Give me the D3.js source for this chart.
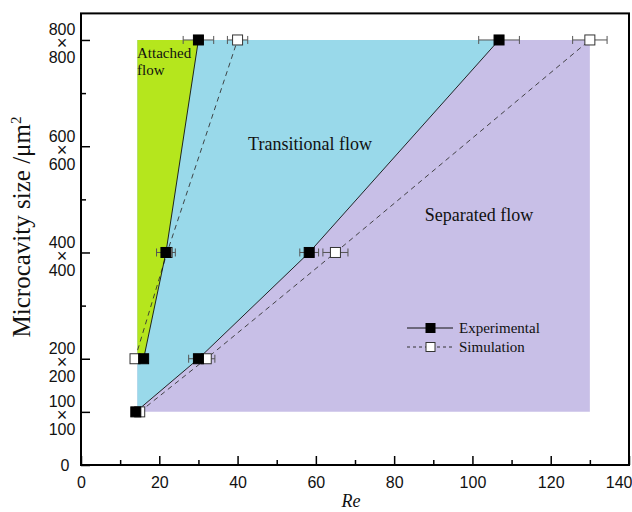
<!DOCTYPE html>
<html lang="en">
<head>
<meta charset="UTF-8">
<title>Flow regimes</title>
<script src="https://d3js.org/d3.v7.min.js"></script>
<style>
    body { margin: 0; background: #fff; }
    svg { display: block; }
    .serif { font-family: "Liberation Serif", "Times New Roman", serif; }
</style>
</head>
<body>
<svg id="chart" width="632" height="512"></svg>
<script>
    // microcavity sizes (µm, square side)
    const sizes = [100, 200, 400, 800];
    const sizeTicks = [0, 100, 200, 400, 600, 800];
    const sizeMinorTicks = [300, 500, 700];
    const reTicks = [0, 20, 40, 60, 80, 100, 120, 140];
    const reMinorTicks = [10, 30, 50, 70, 90, 110, 130];

    // attached / transitional boundary (sizes 200..800)
    const expAttachedRe = [16, 21.7, 30];
    const expAttachedErr = [0, 2.4, 3.9];
    const simAttachedRe = [13.8, 22, 40];
    const simAttachedErr = [0, 0, 2.6];

    // transitional / separated boundary (sizes 100..800)
    const expSeparatedRe = [14, 30, 58.3, 106.8];
    const expSeparatedErr = [0, 2.5, 2.4, 5.2];
    const simSeparatedRe = [15, 32, 65, 130];
    const simSeparatedErr = [0, 2.2, 3.2, 4.4];

    // extent of the shaded map (Re left/right)
    const regionRe = [14.4, 130];

    const svg = d3.select("#chart");
    const x = d3.scaleLinear().domain([0, 140]).range([81, 629]);
    const y = d3.scaleLinear().domain([0, 850]).range([465, 13.4]);

    const attachedPts = sizes.slice(1).map((s, i) => ({ re: expAttachedRe[i], s: s, err: expAttachedErr[i] }));
    const simAttachedPts = sizes.slice(1).map((s, i) => ({ re: simAttachedRe[i], s: s, err: simAttachedErr[i] }));
    const separatedPts = sizes.map((s, i) => ({ re: expSeparatedRe[i], s: s, err: expSeparatedErr[i] }));
    const simSeparatedPts = sizes.map((s, i) => ({ re: simSeparatedRe[i], s: s, err: simSeparatedErr[i] }));

    const poly = pts => pts.map(p => [x(p[0]), y(p[1])].join(",")).join(" ");

    // separated region (whole box)
    svg.append("polygon")
        .attr("points", poly([[regionRe[0], 100], [regionRe[1], 100], [regionRe[1], 800], [regionRe[0], 800]]))
        .attr("fill", "#c8bfe7");

    // transitional region
    const bluePts = [[regionRe[0], 800]]
        .concat(separatedPts.slice().reverse().map(p => [p.re, p.s]))
        .concat([[regionRe[0], 100]]);
    svg.append("polygon").attr("points", poly(bluePts)).attr("fill", "#99d9ea");

    // attached region
    const greenPts = [[regionRe[0], 200]]
        .concat(attachedPts.map(p => [p.re, p.s]))
        .concat([[regionRe[0], 800]]);
    svg.append("polygon").attr("points", poly(greenPts)).attr("fill", "#b5e61d");

    const line = d3.line().x(d => x(d.re)).y(d => y(d.s));

    function drawSeries(pts, dashed) {
        svg.append("path")
            .attr("d", line(pts))
            .attr("fill", "none")
            .attr("stroke", dashed ? "#333" : "#111")
            .attr("stroke-width", 0.9)
            .attr("stroke-dasharray", dashed ? "5,4" : null);
        const eb = svg.append("g").attr("stroke", "#555").attr("stroke-width", 1);
        pts.filter(p => p.err > 0).forEach(p => {
            const cy = y(p.s);
            eb.append("line").attr("x1", x(p.re - p.err)).attr("x2", x(p.re + p.err)).attr("y1", cy).attr("y2", cy);
            eb.append("line").attr("x1", x(p.re - p.err)).attr("x2", x(p.re - p.err)).attr("y1", cy - 4).attr("y2", cy + 4);
            eb.append("line").attr("x1", x(p.re + p.err)).attr("x2", x(p.re + p.err)).attr("y1", cy - 4).attr("y2", cy + 4);
        });
    }

    function drawMarkers(pts, filled) {
        svg.append("g").selectAll("rect")
            .data(pts)
            .enter().append("rect")
            .attr("x", d => x(d.re) - 5)
            .attr("y", d => y(d.s) - 5)
            .attr("width", 10)
            .attr("height", 10)
            .attr("fill", filled ? "#000" : "#fff")
            .attr("stroke", filled ? "#000" : "#333")
            .attr("stroke-width", 1);
    }

    drawSeries(simAttachedPts, true);
    drawSeries(simSeparatedPts, true);
    drawSeries(attachedPts, false);
    drawSeries(separatedPts, false);
    drawMarkers(simAttachedPts, false);
    drawMarkers(simSeparatedPts, false);
    drawMarkers(attachedPts, true);
    drawMarkers(separatedPts, true);

    // region labels
    const attachedLbl = svg.append("text").attr("class", "serif").attr("font-size", 15).attr("fill", "#111");
    attachedLbl.append("tspan").attr("x", 137).attr("y", 58).text("Attached");
    attachedLbl.append("tspan").attr("x", 137).attr("y", 75).text("flow");
    svg.append("text").attr("class", "serif").attr("font-size", 18).attr("fill", "#111")
        .attr("x", 310).attr("y", 150).attr("text-anchor", "middle").text("Transitional flow");
    svg.append("text").attr("class", "serif").attr("font-size", 18).attr("fill", "#111")
        .attr("x", 479).attr("y", 221).attr("text-anchor", "middle").text("Separated flow");

    // legend
    const legend = svg.append("g").attr("class", "serif");
    [["Experimental", false, true, 328], ["Simulation", true, false, 347]].forEach(([label, dashed, filled, ly]) => {
        legend.append("line").attr("x1", 407).attr("x2", 453).attr("y1", ly).attr("y2", ly)
            .attr("stroke", dashed ? "#333" : "#111").attr("stroke-width", 1)
            .attr("stroke-dasharray", dashed ? "3,3" : null);
        legend.append("rect").attr("x", 426).attr("y", ly - 4.5).attr("width", 9).attr("height", 9)
            .attr("fill", filled ? "#000" : "#fff").attr("stroke", filled ? "#000" : "#333");
        legend.append("text").attr("x", 459).attr("y", ly + 5).attr("font-size", 15).attr("fill", "#111").text(label);
    });

    // axes
    const xAxis = svg.append("g").attr("transform", `translate(0,${y(0)})`)
        .call(d3.axisBottom(x).tickValues(reTicks).tickSize(-9).tickPadding(12).tickFormat(d3.format("d")));
    svg.append("g").attr("transform", `translate(0,${y(0)})`)
        .call(d3.axisBottom(x).tickValues(reMinorTicks).tickSize(-5).tickFormat(""));
    const yAxis = svg.append("g").attr("transform", `translate(${x(0)},0)`)
        .call(d3.axisLeft(y).tickValues(sizeTicks).tickSize(-9).tickFormat(""));
    svg.append("g").attr("transform", `translate(${x(0)},0)`)
        .call(d3.axisLeft(y).tickValues(sizeMinorTicks).tickSize(-5).tickFormat(""));
    svg.selectAll(".domain").remove();
    svg.selectAll(".tick line").attr("stroke", "#000").attr("stroke-width", 1.5);
    [xAxis, yAxis].forEach(g => g.attr("font-size", 16).attr("font-family", "'Liberation Sans', Arial, sans-serif"));
    xAxis.selectAll(".tick text").attr("fill", "#111")
        .filter(d => d === 140).attr("text-anchor", "end").attr("x", 3);

    yAxis.selectAll(".tick").each(function (d) {
        const t = d3.select(this).select("text").attr("text-anchor", "middle").attr("x", null).attr("dy", null).attr("fill", "#111");
        if (d === 0) {
            t.append("tspan").attr("x", -16).attr("y", 5).text("0");
        } else {
            t.append("tspan").attr("x", -19).attr("y", -5).text(d);
            t.append("tspan").attr("x", -19).attr("y", 9).attr("font-size", 18).text("\u00d7");
            t.append("tspan").attr("x", -19).attr("y", 23).text(d);
        }
    });

    // frame
    svg.append("rect")
        .attr("x", x(0)).attr("y", y(850))
        .attr("width", x(140) - x(0)).attr("height", y(0) - y(850))
        .attr("fill", "none").attr("stroke", "#000").attr("stroke-width", 2);

    // axis titles
    svg.append("text").attr("class", "serif").attr("font-size", 18).attr("font-style", "italic")
        .attr("x", 351).attr("y", 507).attr("text-anchor", "middle").attr("fill", "#111").text("Re");
    const yt = svg.append("text").attr("class", "serif").attr("font-size", 25).attr("fill", "#111")
        .attr("transform", "translate(30,227) rotate(-90)").attr("text-anchor", "middle");
    yt.append("tspan").text("Microcavity size /\u03bcm");
    yt.append("tspan").attr("font-size", 15).attr("dy", -9).text("2");
</script>
</body>
</html>
